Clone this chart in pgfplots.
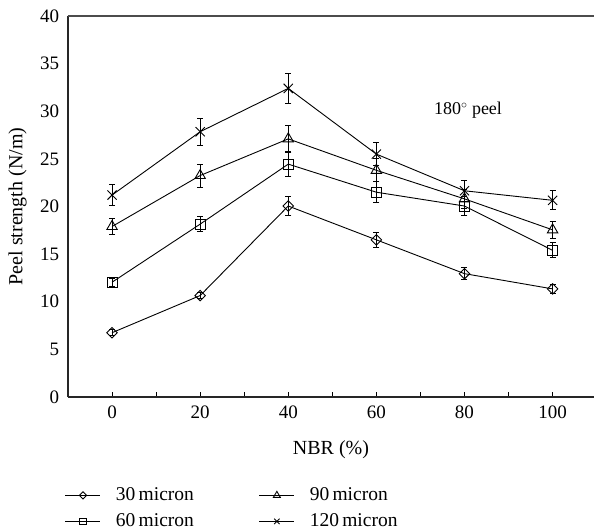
\documentclass[border=0pt]{standalone}
\usepackage{pgfplots}
\pgfplotsset{compat=1.18}
\usepackage{fontspec}
\setmainfont{Liberation Serif}

% Peel strength (mean, error) against NBR content, one table per film thickness
\pgfplotstableread{
x   y     e
0   6.75  0.3
20  10.65 0.35
40  20.05 1.0
60  16.5  0.8
80  12.95 0.65
100 11.35 0.45
}\thirty
\pgfplotstableread{
x   y     e
0   12.05 0.4
20  18.15 0.8
40  24.45 1.3
60  21.5  1.1
80  20.05 1.0
100 15.4  0.8
}\sixty
\pgfplotstableread{
x   y     e
0   17.9  0.8
20  23.25 1.2
40  27.1  1.4
60  23.8  1.2
80  20.8  1.0
100 17.55 0.9
}\ninety
\pgfplotstableread{
x   y     e
0   21.2  1.1
20  27.85 1.4
40  32.4  1.6
60  25.5  1.2
80  21.65 1.1
100 20.65 1.0
}\onetwenty

\newcommand{\entry}[1]{\makebox[154bp][l]{\hspace{13bp}#1}}

\begin{document}
\fontsize{17bp}{20bp}\selectfont
\begin{tikzpicture}
\begin{axis}[
  name=ax,
  scale only axis,
  width=526bp, height=381bp,
  xmin=-10, xmax=109.4, ymin=0, ymax=40,
  axis x line*=bottom, axis y line*=left,
  axis line style={line width=1.3bp, black!85},
  xtick={0,20,...,100}, minor xtick={10,30,50,70,90},
  ytick={0,5,...,40},
  tick align=inside,
  major tick length=5bp, minor tick length=5bp,
  xtick style={line width=0.9bp, black},
  ytick style={draw=none},
  /pgf/number format/assume math mode=true,
  tick label style={font=\fontsize{19bp}{22bp}\selectfont},
  xticklabel style={yshift=-3bp},
  yticklabel style={xshift=-3bp},
  xlabel={NBR (\%)}, ylabel={Peel strength (N/m)},
  label style={font=\fontsize{20bp}{24bp}\selectfont},
  xlabel style={yshift=-10bp},
  ylabel style={yshift=2bp},
  every axis plot/.append style={black, line width=0.9bp},
  error bars/y dir=both, error bars/y explicit,
  error bars/error bar style={line width=0.9bp, black},
  error bars/error mark options={rotate=90, mark size=3bp, line width=0.9bp},
  legend columns=2, transpose legend,
  legend style={draw=none, fill=none, at={(-0.006,-0.232)}, anchor=north west,
    font=\fontsize{19.5bp}{22bp}\selectfont,
    /tikz/column sep=0pt,
    row sep=6.5bp, inner sep=0pt},
  legend cell align=left,
  legend image code/.code={
    \draw[mark repeat=2, mark phase=2, line width=0.9bp]
      plot coordinates {(0bp,0bp) (17.5bp,0bp) (35bp,0bp)};},
]
\addplot[mark=square, mark size=3.7bp, mark options={solid, fill=white, rotate=45},
  legend image post style={mark size=2.6bp}]
  table[x=x, y=y, y error=e]{\thirty};
\addlegendentry{\entry{30\,micron}}
\addplot[mark=square, mark size=5bp, mark options={solid, fill=none},
  legend image post style={mark size=3.2bp}]
  table[x=x, y=y, y error=e]{\sixty};
\addlegendentry{\entry{60\,micron}}
\addplot[mark=triangle, mark size=6bp, mark options={solid, fill=none},
  legend image post style={mark size=4bp}]
  table[x=x, y=y, y error=e]{\ninety};
\addlegendentry{\entry{90\,micron}}
\addplot[mark=x, mark size=6.5bp, mark options={solid},
  legend image post style={mark size=3.8bp}]
  table[x=x, y=y, y error=e]{\onetwenty};
\addlegendentry{\entry{120\,micron}}

\draw[black!70, line width=1.3bp] (rel axis cs:0,1) -- (rel axis cs:1,1);
\node[font=\fontsize{18bp}{21bp}\selectfont] at (axis cs:80.8,30.1) {180\textsuperscript{$\circ$} peel};
\end{axis}
\pgfresetboundingbox
\path ([xshift=-68bp,yshift=-133bp]ax.south west) rectangle ([yshift=16bp]ax.north east);
\end{tikzpicture}
\end{document}
